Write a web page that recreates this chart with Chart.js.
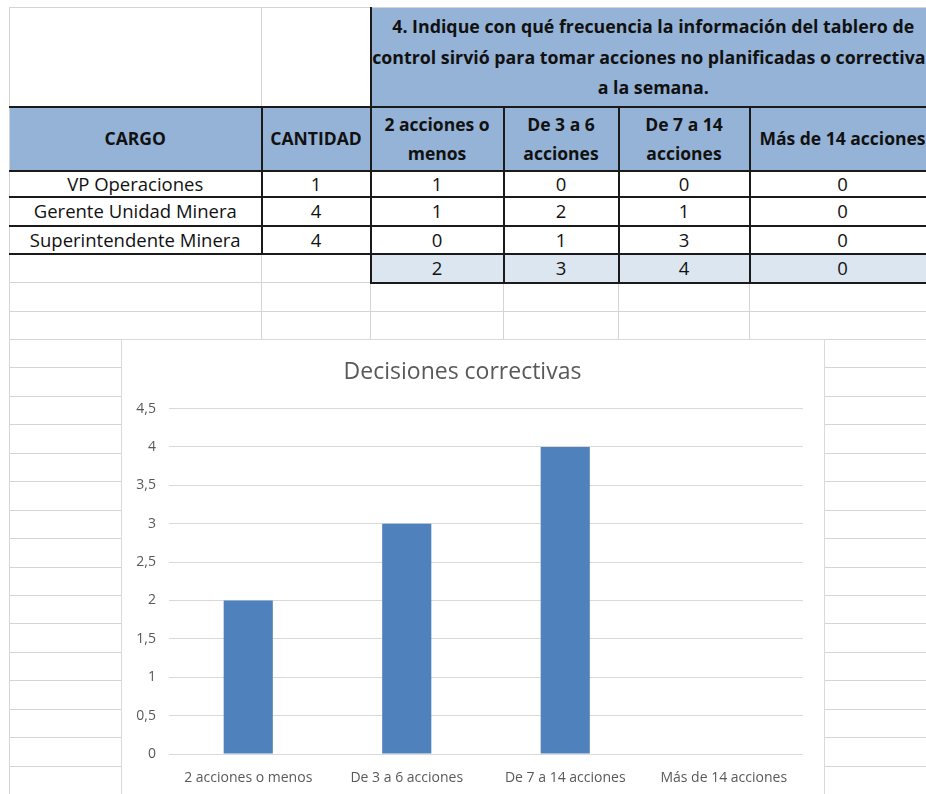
<!DOCTYPE html>
<html>
<head>
<meta charset="utf-8">
<script src="https://cdn.jsdelivr.net/npm/chart.js@4.4.0/dist/chart.umd.min.js"></script>
<style>
body { margin: 0; background: #fff; }
#sheet { position: relative; width: 926px; height: 794px; overflow: hidden; font-family: "Open Sans", sans-serif; }
#grid {
    position: absolute; left: 9px; top: 339px; width: 1000px; height: 470px;
    border-left: 1px solid #d4d4d4;
    background: repeating-linear-gradient(to bottom, #d4d4d4 0, #d4d4d4 1px, transparent 1px, transparent 28.45px);
}
table { position: absolute; left: 9px; top: 7px; border-collapse: collapse; table-layout: fixed; width: 926px; }
td { border: 1px solid #d4d4d4; text-align: center; vertical-align: middle; padding: 0; font-size: 18.5px; color: #111; line-height: 20px; white-space: nowrap; }
td.first { border-left: 1px solid #d4d4d4 !important; }
td.q { background: #95b3d7; font-weight: bold; font-size: 17.8px; line-height: 30.5px; border-left: 2px solid #1a1a1a; border-bottom: 2px solid #1a1a1a; }
td.h { background: #95b3d7; font-weight: bold; font-size: 17.5px; line-height: 29px; border: 2px solid #1a1a1a; }
td.d { border: 2px solid #1a1a1a; }
td.s { background: #dce6f1; border: 2px solid #1a1a1a; }
#chartBox {
    position: absolute; left: 121px; top: 339px; width: 704px; height: 460px; box-sizing: border-box;
    background: #fff; border: 1px solid #d9d9d9;
}
</style>
</head>
<body>
<div id="sheet">
    <div id="grid"></div>
    <table id="tabla">
        <colgroup>
            <col style="width:252px"><col style="width:109px"><col style="width:133px">
            <col style="width:115px"><col style="width:131px"><col style="width:186px">
        </colgroup>
        <tbody id="tbody"></tbody>
    </table>
    <div id="chartBox"><canvas id="decisiones"></canvas></div>
</div>
<script>
// datos de la encuesta
const pregunta = ["4. Indique con qué frecuencia la información del tablero de",
    "control sirvió para tomar acciones no planificadas o correctivas",
    "a la semana."];
const categorias = ["2 acciones o menos", "De 3 a 6 acciones", "De 7 a 14 acciones", "Más de 14 acciones"];
const encabezados = ["2 acciones o<br>menos", "De 3 a 6<br>acciones", "De 7 a 14<br>acciones", "Más de 14 acciones"];
const cargos = ["VP Operaciones", "Gerente Unidad Minera", "Superintendente Minera"];
const cantidades = [1, 4, 4];
const vpOperaciones = [1, 0, 0, 0];
const gerenteUnidad = [1, 2, 1, 0];
const superintendente = [0, 1, 3, 0];
const totales = [2, 3, 4, 0];
const tituloGrafico = "Decisiones correctivas";

const respuestas = [vpOperaciones, gerenteUnidad, superintendente];
const tbody = document.getElementById("tbody");

function addRow(height, html) {
    const tr = document.createElement("tr");
    tr.style.height = height + "px";
    tr.innerHTML = html;
    tbody.appendChild(tr);
}

addRow(99, `<td class="first"></td><td></td><td class="q" colspan="4">${pregunta.join("<br>")}</td>`);
addRow(64, `<td class="h first">CARGO</td><td class="h">CANTIDAD</td>` +
    encabezados.map(e => `<td class="h">${e}</td>`).join(""));

const alturas = [26, 29, 28];
for (let i = 0; i < cargos.length; i++) {
    addRow(alturas[i], `<td class="d first">${cargos[i]}</td><td class="d">${cantidades[i]}</td>` +
        respuestas[i].map(v => `<td class="d">${v}</td>`).join(""));
}
addRow(29, `<td class="first"></td><td></td>` + totales.map(v => `<td class="s">${v}</td>`).join(""));
addRow(29, `<td class="first"></td><td></td><td></td><td></td><td></td><td></td>`);
addRow(28, `<td class="first"></td><td></td><td></td><td></td><td></td><td></td>`);

// gráfico de barras
const ctx = document.getElementById("decisiones");
new Chart(ctx, {
    type: "bar",
    data: {
        labels: categorias,
        datasets: [{
            data: totales,
            backgroundColor: "#4f81bd",
            borderWidth: 0,
            categoryPercentage: 1,
            barPercentage: 0.31
        }]
    },
    options: {
        responsive: true,
        maintainAspectRatio: false,
        devicePixelRatio: 1,
        animation: false,
        layout: { padding: { left: 0, right: 21, top: 0, bottom: 0 } },
        plugins: {
            legend: { display: false },
            tooltip: { enabled: false },
            title: {
                display: true,
                text: tituloGrafico,
                color: "#595959",
                font: { family: "Open Sans", size: 23, weight: "normal" },
                padding: { top: 19, bottom: 22 }
            }
        },
        scales: {
            x: {
                grid: { display: false },
                border: { display: false },
                ticks: {
                    color: "#595959",
                    font: { family: "Open Sans", size: 14 },
                    padding: 8,
                    maxRotation: 0
                },
                afterFit: s => { s.height = 44; }
            },
            y: {
                min: 0,
                max: 4.5,
                grid: { color: "#d9d9d9", drawTicks: false },
                border: { display: false },
                ticks: {
                    stepSize: 0.5,
                    color: "#595959",
                    font: { family: "Open Sans", size: 14 },
                    padding: 13,
                    callback: v => String(v).replace(".", ",")
                },
                afterFit: s => { s.width = 47; }
            }
        }
    }
});
</script>
</body>
</html>
